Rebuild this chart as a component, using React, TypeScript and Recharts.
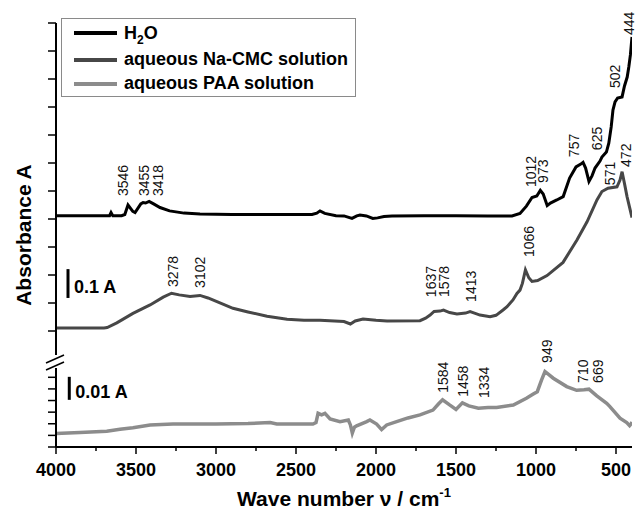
import { Legend, Line, LineChart, ReferenceDot, ReferenceLine, XAxis, YAxis } from "recharts";

const FONT = '"Liberation Sans", Arial, Helvetica, sans-serif';
const INK = "#000";
const H2O_COLOR = "#000000";
const CMC_COLOR = "#474747";
const PAA_COLOR = "#8c8c8c";

// [wave number cm-1, absorbance A] (upper traces already offset)
const H2O: [number, number][] = [
  [4000, 0.412], [3700, 0.412], [3665, 0.412], [3656, 0.423], [3645, 0.412], [3590, 0.412],
  [3570, 0.416], [3550, 0.45], [3520, 0.427], [3506, 0.423], [3470, 0.454], [3456, 0.459],
  [3440, 0.457], [3418, 0.463], [3390, 0.454], [3350, 0.441], [3290, 0.429], [3200, 0.421],
  [3100, 0.418], [2900, 0.416], [2600, 0.416], [2400, 0.416], [2370, 0.421], [2350, 0.429],
  [2320, 0.42], [2250, 0.412], [2200, 0.411], [2150, 0.402], [2120, 0.411], [2100, 0.414],
  [2060, 0.411], [2020, 0.402], [1990, 0.404], [1950, 0.409], [1900, 0.411], [1700, 0.412],
  [1500, 0.412], [1300, 0.411], [1150, 0.411], [1100, 0.42], [1060, 0.446], [1025, 0.477],
  [995, 0.482], [973, 0.502], [955, 0.489], [930, 0.448], [910, 0.457], [870, 0.468],
  [830, 0.48], [790, 0.546], [750, 0.586], [720, 0.596], [706, 0.602], [690, 0.582],
  [669, 0.534], [650, 0.554], [631, 0.582], [600, 0.607], [588, 0.621], [560, 0.639],
  [545, 0.671], [530, 0.729], [519, 0.789], [506, 0.818], [490, 0.832], [462, 0.836],
  [447, 0.875], [430, 0.907], [420, 0.943], [410, 0.986], [400, 1.05],
];

const CMC: [number, number][] = [
  [4000, 0.011], [3700, 0.011], [3680, 0.0125], [3620, 0.029], [3519, 0.063], [3412, 0.093],
  [3330, 0.121], [3278, 0.135], [3230, 0.129], [3162, 0.123], [3100, 0.127], [3050, 0.118],
  [2994, 0.105], [2894, 0.081], [2800, 0.068], [2681, 0.053], [2556, 0.042], [2450, 0.038],
  [2350, 0.038], [2200, 0.034], [2160, 0.025], [2130, 0.036], [2081, 0.043], [2000, 0.038],
  [1931, 0.036], [1725, 0.037], [1690, 0.046], [1662, 0.057], [1637, 0.07], [1600, 0.071],
  [1578, 0.075], [1540, 0.066], [1494, 0.061], [1440, 0.064], [1412, 0.069], [1380, 0.063],
  [1350, 0.057], [1287, 0.051], [1250, 0.056], [1206, 0.075], [1181, 0.087], [1144, 0.111],
  [1119, 0.134], [1100, 0.146], [1085, 0.17], [1066, 0.218], [1045, 0.19], [1025, 0.177],
  [990, 0.18], [931, 0.198], [831, 0.245], [744, 0.325], [681, 0.39], [619, 0.468],
  [588, 0.498], [550, 0.51], [494, 0.515], [475, 0.539], [462, 0.569], [445, 0.521],
  [431, 0.48], [400, 0.405],
];

const PAA: [number, number][] = [
  [4000, 0.0058], [3850, 0.0062], [3683, 0.0068], [3600, 0.0076], [3519, 0.0083], [3412, 0.0095],
  [3269, 0.0099], [3000, 0.0099], [2800, 0.0101], [2662, 0.0105], [2620, 0.0099], [2394, 0.0099],
  [2375, 0.0105], [2362, 0.0145], [2340, 0.0138], [2319, 0.0145], [2287, 0.0121], [2225, 0.0109],
  [2173, 0.0116], [2160, 0.0095], [2148, 0.006], [2135, 0.0085], [2121, 0.0091], [2058, 0.0109],
  [2038, 0.0116], [1996, 0.0099], [1965, 0.0075], [1933, 0.0095], [1871, 0.0109], [1800, 0.0125],
  [1725, 0.0138], [1644, 0.0159], [1610, 0.0185], [1584, 0.0203], [1540, 0.0181], [1500, 0.0162],
  [1460, 0.019], [1420, 0.0177], [1360, 0.0167], [1300, 0.017], [1246, 0.017], [1142, 0.0181],
  [1060, 0.021], [1017, 0.0228], [992, 0.0238], [965, 0.0289], [944, 0.0325], [892, 0.0296],
  [808, 0.026], [746, 0.0244], [700, 0.0246], [669, 0.0249], [620, 0.022], [558, 0.0188],
  [538, 0.0174], [475, 0.0124], [433, 0.0105], [415, 0.0092], [405, 0.01], [400, 0.0108],
];

// [label, wave number, absorbance] where each peak label starts
const H2O_PEAKS: [string, number, number][] = [
  ["3546", 3581, 0.482], ["3455", 3450, 0.482], ["3418", 3362, 0.482],
  ["1012", 1031, 0.514], ["973", 956, 0.529], ["757", 763, 0.621], ["625", 619, 0.646],
  ["502", 506, 0.868], ["444", 416, 1.057],
];
const CMC_PEAKS: [string, number, number][] = [
  ["3278", 3269, 0.157], ["3102", 3100, 0.154], ["1637", 1656, 0.121], ["1578", 1575, 0.121],
  ["1413", 1406, 0.104], ["1066", 1044, 0.264], ["571", 538, 0.521], ["472", 438, 0.586],
];
const PAA_PEAKS: [string, number, number][] = [
  ["1584", 1581, 0.0233], ["1458", 1456, 0.0216], ["1334", 1325, 0.0211],
  ["949", 931, 0.0362], ["710", 706, 0.0276], ["669", 613, 0.0276],
];

const X_TICKS = [4000, 3750, 3500, 3250, 3000, 2750, 2500, 2250, 2000, 1750, 1500, 1250, 1000, 750, 500];
const UPPER_TICKS = [0, 0.1, 0.2, 0.3, 0.4, 0.5, 0.6, 0.7, 0.8, 0.9, 1.0, 1.1];
const LOWER_TICKS = [0, 0.005, 0.01, 0.015, 0.02, 0.025, 0.03];

const SERIES = [
  { name: "H2O", color: H2O_COLOR },
  { name: "aqueous Na-CMC solution", color: CMC_COLOR },
  { name: "aqueous PAA solution", color: PAA_COLOR },
];
const LEGEND_ROWS = [28, 25, 23];

const toPoints = (rows: [number, number][]) => rows.map(([w, a]) => ({ w, a }));

const axisLine = { stroke: INK, strokeWidth: 2 };

function peakShape(text: string) {
  return (p: any) => (
    <text
      x={p.cx}
      y={p.cy}
      dy="0.36em"
      transform={`rotate(-90 ${p.cx} ${p.cy})`}
      fontSize={14}
      fontFamily={FONT}
      fill="#111"
    >
      {text}
    </text>
  );
}

function XTick({ x, y, payload }: any) {
  const major = payload.value % 500 === 0;
  return (
    <g>
      <line x1={x} x2={x} y1={y} y2={y + (major ? 7 : 4)} stroke={INK} strokeWidth={1.5} />
      {major && (
        <text x={x} y={y + 29} textAnchor="middle" fontFamily={FONT} fontWeight={700} fontSize={18} fill={INK}>
          {payload.value}
        </text>
      )}
    </g>
  );
}

// y ticks only draw the tick mark, no numbers
function YTick({ x, y }: any) {
  return <line x1={x - 8} x2={x} y1={y} y2={y} stroke={INK} strokeWidth={1.5} />;
}

function XTitle({ viewBox }: any) {
  const vb = viewBox || { x: 56, y: 117, width: 576 };
  return (
    <text
      x={vb.x + vb.width / 2}
      y={vb.y + 59}
      textAnchor="middle"
      fontFamily={FONT}
      fontWeight={700}
      fontSize={21}
      fill={INK}
    >
      Wave number ν / cm
      <tspan dy={-9} fontSize={13}>-1</tspan>
    </text>
  );
}

function YTitle({ viewBox }: any) {
  const vb = viewBox || { x: 0, y: 23, width: 56, height: 332 };
  const x = vb.x + 31;
  const y = vb.y + vb.height / 2 + 46;
  return (
    <text
      x={x}
      y={y}
      transform={`rotate(-90 ${x} ${y})`}
      textAnchor="middle"
      fontFamily={FONT}
      fontWeight={700}
      fontSize={21}
      fill={INK}
    >
      Absorbance A
    </text>
  );
}

function LegendBox() {
  return (
    <div
      style={{
        width: 295,
        height: 79,
        boxSizing: "border-box",
        border: "1px solid #8a8a8a",
        background: "#fff",
        fontFamily: FONT,
        fontWeight: 700,
        fontSize: 18,
        color: INK,
      }}
    >
      {SERIES.map((s, i) => (
        <div key={s.name} style={{ display: "flex", alignItems: "center", height: LEGEND_ROWS[i] }}>
          <span
            style={{ display: "inline-block", width: 43, height: 4, background: s.color, marginLeft: 12, marginRight: 7 }}
          />
          {s.name === "H2O" ? (
            <span>
              H<span style={{ fontSize: 12, position: "relative", top: 5 }}>2</span>O
            </span>
          ) : (
            <span>{s.name}</span>
          )}
        </div>
      ))}
    </div>
  );
}

const barLabel = (value: string) => ({
  value,
  position: "right" as const,
  offset: 6,
  dy: 3,
  fill: INK,
  fontSize: 18,
  fontWeight: 700,
  fontFamily: FONT,
});

export default function App() {
  return (
    <div style={{ position: "absolute", left: 0, top: 0, width: 637, height: 511, background: "#fff" }}>
      <div style={{ position: "absolute", left: 0, top: 0 }}>
        <LineChart width={637} height={370} margin={{ top: 23, right: 5, bottom: 15, left: 0 }}>
          <XAxis type="number" dataKey="w" domain={[400, 4000]} reversed hide allowDataOverflow />
          <YAxis
            type="number"
            domain={[-0.0857, 1.1]}
            ticks={UPPER_TICKS}
            interval={0}
            width={56}
            tick={<YTick />}
            tickLine={false}
            tickSize={0}
            tickMargin={0}
            axisLine={axisLine}
            allowDataOverflow
            label={<YTitle />}
          />
          <Legend
            layout="horizontal"
            verticalAlign="middle"
            align="center"
            content={<LegendBox />}
            wrapperStyle={{ left: 61, top: 18, width: 295 }}
          />
          <ReferenceLine
            segment={[{ x: 3925, y: 0.118 }, { x: 3925, y: 0.221 }]}
            stroke={INK}
            strokeWidth={3}
            label={barLabel("0.1 A")}
          />
          <Line
            data={toPoints(CMC)}
            dataKey="a"
            name="aqueous Na-CMC solution"
            stroke={CMC_COLOR}
            strokeWidth={3}
            dot={false}
            isAnimationActive={false}
          />
          <Line
            data={toPoints(H2O)}
            dataKey="a"
            name="H2O"
            stroke={H2O_COLOR}
            strokeWidth={3}
            dot={false}
            isAnimationActive={false}
          />
          {[...H2O_PEAKS, ...CMC_PEAKS].map(([t, w, a]) => (
            <ReferenceDot key={t} x={w} y={a} ifOverflow="visible" shape={peakShape(t)} />
          ))}
        </LineChart>
      </div>
      <div style={{ position: "absolute", left: 0, top: 330 }}>
        <LineChart width={637} height={181} margin={{ top: 38, right: 5, bottom: 0, left: 0 }}>
          <XAxis
            type="number"
            dataKey="w"
            domain={[400, 4000]}
            reversed
            allowDataOverflow
            ticks={X_TICKS}
            interval={0}
            height={64}
            tickLine={false}
            tickSize={0}
            tickMargin={0}
            tick={<XTick />}
            axisLine={axisLine}
            label={<XTitle />}
          />
          <YAxis
            type="number"
            domain={[0, 0.034]}
            ticks={LOWER_TICKS}
            interval={0}
            width={56}
            tick={<YTick />}
            tickLine={false}
            tickSize={0}
            tickMargin={0}
            axisLine={axisLine}
            allowDataOverflow
          />
          <ReferenceLine
            segment={[{ x: 3917, y: 0.0203 }, { x: 3917, y: 0.0302 }]}
            stroke={INK}
            strokeWidth={3}
            label={barLabel("0.01 A")}
          />
          <Line
            data={toPoints(PAA)}
            dataKey="a"
            name="aqueous PAA solution"
            stroke={PAA_COLOR}
            strokeWidth={3.5}
            dot={false}
            isAnimationActive={false}
          />
          {PAA_PEAKS.map(([t, w, a]) => (
            <ReferenceDot key={t} x={w} y={a} ifOverflow="visible" shape={peakShape(t)} />
          ))}
        </LineChart>
      </div>
      {/* axis break marks */}
      <svg width={637} height={511} style={{ position: "absolute", left: 0, top: 0, pointerEvents: "none" }}>
        <line x1={46} y1={363} x2={64} y2={355} stroke={INK} strokeWidth={1.5} />
        <line x1={46} y1={370} x2={64} y2={362} stroke={INK} strokeWidth={1.5} />
      </svg>
    </div>
  );
}
